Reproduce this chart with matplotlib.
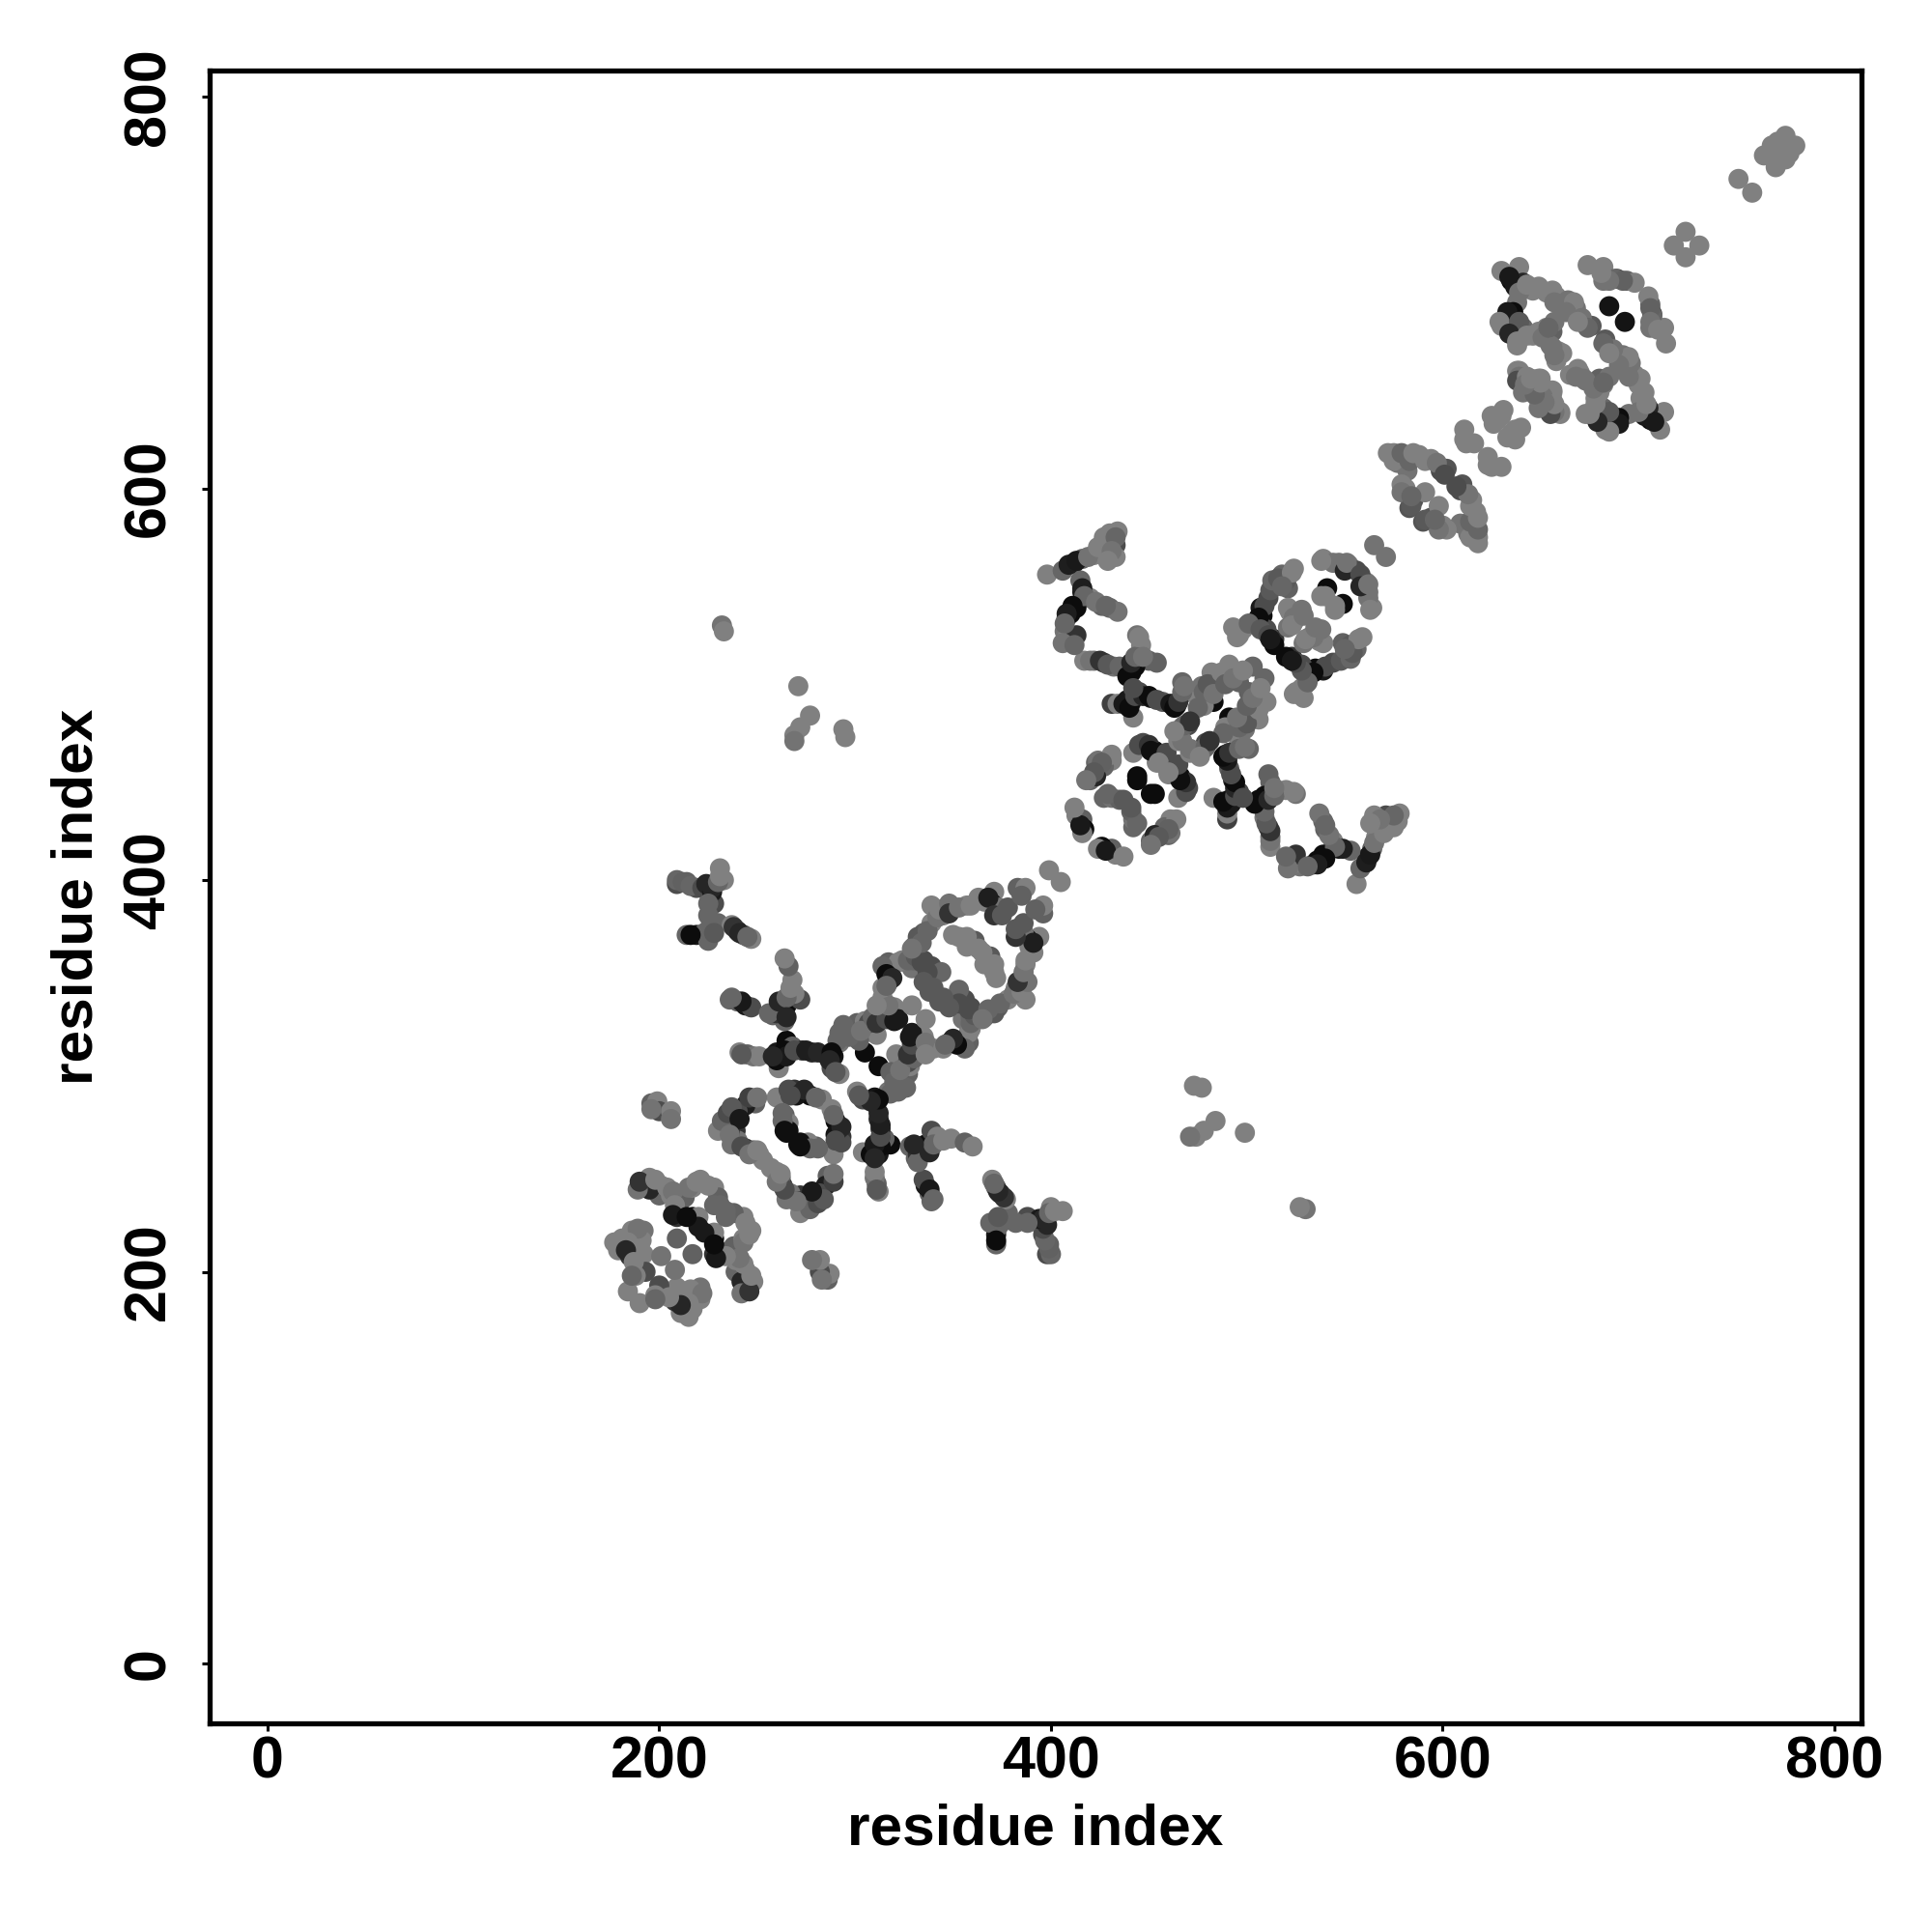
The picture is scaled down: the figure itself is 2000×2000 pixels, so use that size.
import numpy as np
import matplotlib
matplotlib.use("Agg")
import matplotlib.pyplot as plt

plt.rcParams['font.family'] = ['Liberation Sans', 'DejaVu Sans']
plt.rcParams['font.weight'] = 'bold'

# contacts above the diagonal, the map is symmetric so the rest is mirrored below

# residues 180-250
i_a = [193, 192, 195, 201, 200, 206, 209, 213, 217, 221, 228, 230, 231, 210, 209, 217, 220, 220, 181, 179, 192, 191, 187, 185, 192, 201, 209, 193, 188, 184, 195,
       189, 190, 198, 204, 207, 208, 207, 214, 215, 219, 225, 228, 186, 189, 184, 177, 183, 187, 186]
j_a = [244, 243, 248, 244, 239, 239, 238, 238, 243, 247, 243, 238, 234, 234, 228, 228, 228, 223, 217, 211, 221, 216, 218, 208, 209, 208, 217, 200, 198, 190, 242,
       242, 246, 247, 243, 241, 234, 229, 228, 243, 246, 244, 234, 221, 222, 215, 215, 211, 205, 198]
g_a = [.15, .15, .5, .5, .4, .5, .5, .38, .5, .5, .5, .38, .4, .38, .2, .05, .5, .1, .5, .5, .45, .5, .5, .2, .5, .45, .38, .3, .5, .5, .15,
       .45, .2, .5, .5, .45, .5, .1, .05, .45, .5, .5, .4, .5, .45, .5, .5, .15, .5, .4]

i_a2 = [196, 199, 200, 206, 206, 196]
j_a2 = [286, 287, 282, 282, 278, 283]
g_a2 = [.38, .5, .3, .5, .45, .45]

# residues 230-290 ring
i_b = [249, 244, 240, 236, 233, 239, 240, 244, 248, 251, 253, 236, 260, 269, 266, 273, 277, 283, 264, 266, 266,
       230, 232, 235, 237, 241, 236, 237, 242, 246, 250, 246, 250, 270, 274, 280, 267, 263, 263, 264, 265]
j_b = [286, 285, 282, 276, 273, 272, 267, 263, 262, 260, 257, 271, 289, 293, 293, 292, 290, 288, 280, 276, 272,
       272, 277, 281, 284, 278, 270, 265, 264, 260, 262, 289, 289, 290, 293, 289, 290, 281, 277, 272, 271]
g_b = [.38, .12, .3, .12, .5, .2, .45, .2, .35, .5, .5, .15, .5, .2, .3, .25, .05, .5, .38, .5, .06,
       .5, .4, .3, .35, .1, .45, .45, .3, .45, .5, .25, .45, .08, .15, .4, .3, .4, .4, .06, .06]

# residues 235-290 cross arms
i_c = [241, 245, 248, 251, 260, 261, 261, 265, 268, 273, 278, 286, 236, 240, 244, 247, 261, 258, 264, 265, 272, 269, 268, 266, 264,
       260, 264, 265, 269, 275, 281, 258, 242, 262, 260, 256, 261, 265, 265, 267, 242, 237]
j_c = [312, 311, 310, 310, 312, 304, 310, 318, 315, 313, 312, 310, 339, 338, 336, 335, 333, 331, 328, 336, 339, 342, 349, 356, 360,
       308, 313, 310, 313, 313, 312, 310, 311, 335, 332, 332, 338, 340, 330, 345, 338, 340]
g_c = [.5, .38, .45, .5, .1, .5, .06, .05, .38, .15, .15, .05, .4, .38, .1, .3, .1, .38, .4, .05, .3, .5, .5, .38, .5,
       .05, .05, .1, .3, .12, .15, .15, .35, .05, .2, .4, .15, .4, .15, .5, .1, .4]

# residues 290-400 band
i_d = [305, 311, 292, 296, 301, 305, 292, 289, 288, 292, 302, 307, 312, 312, 316, 320, 322, 329, 316, 317, 314, 317, 322, 329, 330, 335, 339, 338, 344,
       330, 335, 339, 339, 345, 350, 357, 363, 371, 370, 373, 378, 383, 387, 399, 353, 361, 357, 363]
j_d = [312, 321, 322, 324, 327, 328, 317, 310, 304, 301, 318, 327, 328, 335, 335, 335, 329, 336, 353, 348, 340, 358, 358, 355, 359, 359, 356, 343, 353,
       366, 373, 378, 387, 382, 386, 387, 391, 394, 388, 386, 386, 396, 396, 405, 371, 369, 366, 365]
g_d = [.05, .5, .4, .35, .38, .5, .45, .08, .3, .5, .38, .3, .3, .5, .45, .5, .1, .5, .1, .38, .5, .38, .5, .45, .4, .3, .3, .35, .4,
       .4, .38, .5, .5, .5, .4, .5, .5, .5, .1, .45, .35, .38, .5, .5, .5, .35, .5, .5]

i_d2 = [291, 288, 287, 290, 294, 297, 303, 309, 311, 316, 320, 317, 311, 314, 314, 316, 319, 316, 324, 327, 331, 334, 337, 335, 340,
        332, 334, 329, 337, 342, 343, 348, 348, 353, 359, 366, 368, 371, 375, 385, 357, 357, 350]
j_d2 = [318, 312, 308, 302, 326, 320, 323, 330, 327, 329, 328, 336, 336, 345, 356, 352, 350, 346, 359, 359, 361, 358, 353, 348, 345,
        371, 368, 365, 374, 381, 385, 388, 383, 386, 387, 389, 391, 382, 382, 392, 371, 369, 372]
g_d2 = [.4, .05, .15, .35, .4, .4, .45, .4, .2, .3, .1, .45, .5, .5, .4, .05, .15, .4, .5, .4, .35, .3, .3, .35, .35,
        .35, .4, .45, .4, .45, .5, .45, .2, .45, .5, .5, .12, .2, .35, .38, .5, .5, .5]

# arm at 210-250 / 370-405
i_e = [209, 214, 219, 225, 228, 233, 231, 225, 230, 237, 240, 243, 247, 214, 219, 225,
       209, 212, 216, 222, 224, 227, 227, 230, 231, 225, 226, 223, 228, 216, 238, 241, 245]
j_e = [398, 399, 396, 394, 388, 400, 406, 382, 378, 377, 374, 372, 370, 372, 372, 369,
       400, 399, 397, 396, 398, 394, 396, 399, 402, 388, 376, 373, 373, 372, 376, 373, 371]
g_e = [.3, .38, .3, .12, .3, .5, .5, .4, .4, .5, .12, .3, .5, .4, .1, .4,
       .4, .38, .4, .3, .15, .1, .15, .4, .5, .4, .4, .4, .35, .05, .2, .15, .4]

# long range contacts
i_f = [232, 233, 271, 277, 272, 269, 269, 294, 295]
j_f = [530, 527, 499, 484, 478, 474, 471, 477, 473]
g_f = [.45, .5, .5, .5, .5, .5, .45, .5, .5]

# residues 400-470
i_g = [398, 406, 412, 416, 422, 426, 430, 434, 433, 433, 415, 416, 420, 426, 430, 434, 413, 408, 407, 408, 413,
       417, 422, 427, 432, 439, 441, 444, 446, 450, 454, 431, 434, 441, 442, 445, 451, 457, 464, 467, 470]
j_g = [556, 558, 562, 564, 566, 571, 577, 578, 571, 565, 553, 547, 544, 540, 539, 537, 539, 534, 527, 523, 525,
       512, 512, 511, 509, 507, 506, 525, 520, 512, 511, 490, 490, 491, 483, 496, 493, 491, 489, 501, 496]
g_g = [.5, .4, .1, .38, .5, .5, .5, .5, .3, .5, .4, .1, .5, .38, .4, .45, .05, .12, .45, .5, .2,
       .5, .4, .2, .45, .2, .05, .45, .5, .38, .38, .25, .5, .08, .5, .3, .1, .35, .08, .4, .5]

i_g2 = [409, 413, 419, 424, 427, 433, 431, 429, 416, 417, 423, 428, 411, 410, 408, 407, 406, 412, 420, 425, 429, 435, 439, 443, 441, 443, 445, 447,
        437, 439, 440, 443, 447, 450, 454, 461, 463, 465, 467, 468, 442]
j_g2 = [561, 563, 565, 570, 575, 575, 568, 563, 549, 545, 542, 540, 540, 536, 536, 531, 521, 520, 512, 512, 510, 509, 504, 509, 511, 514, 524, 514,
        490, 492, 488, 494, 494, 494, 492, 490, 488, 491, 496, 499, 498]
g_g2 = [.12, .1, .45, .5, .5, .4, .45, .5, .12, .4, .45, .4, .05, .05, .12, .4, .45, .4, .45, .2, .35, .4, .05, .05, .15, .4, .5, .45,
        .1, .1, .05, .3, .15, .05, .3, .1, .05, .2, .4, .45, .3]

# residues 410-460, the lower half of the cross
i_x = [431, 427, 423, 420, 423, 427, 431, 435, 444, 442, 447, 453, 457, 454, 413, 416, 417, 416,
       424, 431, 426, 422, 418, 429, 437, 445, 450, 454, 451, 459, 455, 444, 415, 412]
j_x = [461, 458, 460, 451, 453, 442, 442, 441, 453, 465, 470, 466, 464, 460, 433, 431, 426, 424,
       461, 464, 460, 455, 451, 444, 441, 469, 469, 465, 466, 465, 460, 451, 428, 437]
g_x = [.5, .4, .4, .4, .15, .4, .45, .38, .05, .5, .3, .06, .3, .5, .5, .38, .05, .5,
       .45, .5, .38, .35, .45, .4, .35, .3, .2, .06, .06, .3, .5, .05, .1, .5]

# residues 465-565
i_h = [483, 478, 477, 483, 482, 491, 496, 503, 470, 467, 465, 496, 500, 508, 511, 514, 518, 524, 521, 510, 514, 524, 526, 521, 539, 547, 552, 556, 565, 541, 538]
j_h = [491, 489, 499, 501, 506, 510, 501, 509, 479, 478, 471, 525, 530, 535, 544, 552, 556, 559, 549, 528, 523, 532, 537, 539, 564, 562, 561, 558, 571, 549, 545]
g_h = [.05, .5, .45, .38, .5, .5, .38, .4, .3, .35, .5, .5, .45, .05, .3, .4, .4, .5, .38, .3, .2, .45, .45, .5, .5, .45, .5, .3, .45, .05, .5]

i_h2 = [475, 478, 480, 483, 487, 491, 489, 493, 498, 467, 468, 471, 463, 505, 507, 509, 506, 512, 513, 516, 520, 523, 518,
        493, 495, 498, 501, 507, 511, 514, 512, 522, 528, 524, 521, 523, 529, 544, 550, 551, 538, 540]
j_h2 = [488, 496, 500, 495, 506, 506, 500, 503, 507, 471, 479, 481, 476, 532, 539, 540, 534, 548, 553, 554, 553, 557, 550,
        529, 524, 528, 531, 528, 525, 520, 523, 537, 538, 534, 529, 530, 535, 562, 558, 562, 563, 545]
g_h2 = [.4, .4, .35, .45, .5, .5, .38, .45, .5, .45, .4, .2, .5, .05, .1, .3, .05, .35, .4, .35, .35, .5, .4,
        .5, .5, .5, .4, .35, .3, .05, .1, .5, .45, .45, .45, .5, .45, .45, .15, .45, .5, .5]

# residues 570-630
i_k = [575, 580, 577, 588, 594, 599, 602, 581, 585, 583, 591, 582, 611, 616, 612, 630, 628,
       572, 575, 579, 583, 585, 591, 597, 601, 579, 579, 584, 584, 611, 625, 626, 631]
j_k = [618, 617, 613, 617, 615, 609, 610, 600, 594, 590, 598, 609, 630, 623, 623, 637, 635,
       618, 614, 618, 614, 618, 614, 613, 607, 602, 598, 591, 596, 625, 637, 633, 640]
g_k = [.5, .4, .45, .5, .5, .3, .33, .5, .33, .33, .5, .45, .5, .5, .5, .5, .5,
       .5, .5, .4, .4, .5, .5, .45, .3, .5, .45, .35, .4, .5, .5, .5, .5]

# residues 630-710
i_m = [630, 639, 635, 641, 646, 656, 661, 668, 676, 638, 636, 630, 635, 641, 646, 638, 656, 653, 655, 661, 658, 639, 641, 649, 647, 656, 651, 635,
       674, 682, 682, 689, 694, 698, 685]
j_m = [711, 713, 706, 705, 701, 701, 695, 692, 683, 695, 690, 683, 681, 682, 678, 673, 680, 682, 673, 669, 665, 660, 655, 656, 651, 650, 643, 686,
       714, 713, 706, 707, 706, 705, 693]
g_m = [.5, .5, .05, .15, .5, .5, .45, .45, .35, .45, .05, .5, .1, .4, .5, .5, .38, .5, .45, .5, .5, .5, .45, .5, .45, .5, .45, .08,
       .5, .5, .45, .3, .4, .5, .08]

i_m2 = [634, 637, 639, 643, 649, 653, 658, 657, 664, 667, 663, 671, 674, 669, 633, 634, 629, 639, 634, 643, 638, 649, 651, 657, 659, 657, 654, 656,
        638, 639, 638, 643, 644, 641, 648, 654, 653, 656, 688, 692, 685, 681]
j_m2 = [708, 703, 700, 704, 703, 700, 698, 695, 696, 695, 690, 687, 682, 685, 690, 686, 685, 685, 679, 678, 675, 680, 677, 685, 670, 668, 682, 672,
        660, 657, 655, 657, 652, 649, 647, 650, 642, 645, 707, 706, 706, 710]
g_m2 = [.1, .1, .45, .5, .5, .5, .5, .45, .45, .5, .45, .45, .4, .5, .1, .1, .5, .35, .15, .5, .5, .5, .45, .45, .5, .45, .4, .45,
        .5, .45, .3, .5, .45, .45, .4, .5, .45, .5, .4, .38, .45, .5]

# C-terminal end
i_n = [724, 718, 751, 775, 768, 764, 771, 771]
j_n = [731, 724, 758, 780, 775, 770, 777, 772]
g_n = [.5, .5, .5, .5, .5, .5, .5, .5]

res_i = np.array(i_a + i_a2 + i_b + i_c + i_d + i_d2 + i_e + i_f + i_g + i_g2 + i_x + i_h + i_h2 + i_k + i_m + i_m2 + i_n)
res_j = np.array(j_a + j_a2 + j_b + j_c + j_d + j_d2 + j_e + j_f + j_g + j_g2 + j_x + j_h + j_h2 + j_k + j_m + j_m2 + j_n)
grey = np.array(g_a + g_a2 + g_b + g_c + g_d + g_d2 + g_e + g_f + g_g + g_g2 + g_x + g_h + g_h2 + g_k + g_m + g_m2 + g_n)

x = np.concatenate([res_i, res_j])
y = np.concatenate([res_j, res_i])
c = np.concatenate([grey, grey])

fig = plt.figure(figsize=(20, 20), dpi=100)
ax = fig.add_axes([216.7 / 2000, 1 - 1783.7 / 2000, (1927 - 216.7) / 2000, (1783.7 - 72.7) / 2000])
ax.scatter(x, y, s=225, c=c, cmap="gray", vmin=0, vmax=1, linewidths=0, zorder=2)

ax.set_xlim(-29.7, 813.8)
ax.set_ylim(-30.4, 813.5)
ax.set_xticks([0, 200, 400, 600, 800])
ax.set_yticks([0, 200, 400, 600, 800])
for s in ax.spines.values():
    s.set_linewidth(3.8)
ax.tick_params(axis="both", length=6, width=2.2, labelsize=44, pad=3)
ax.tick_params(axis="y", labelrotation=90, pad=18)
for t in ax.get_yticklabels():
    t.set_va("center")
ax.set_xlabel("residue index", fontsize=43.5, fontweight="bold", va="center")
ax.set_ylabel("residue index", fontsize=43.5, fontweight="bold", va="center")
ax.xaxis.set_label_coords(0.5, -0.0645)
ax.yaxis.set_label_coords(-0.0799, 0.5)

fig.savefig("out.png", dpi=100)
